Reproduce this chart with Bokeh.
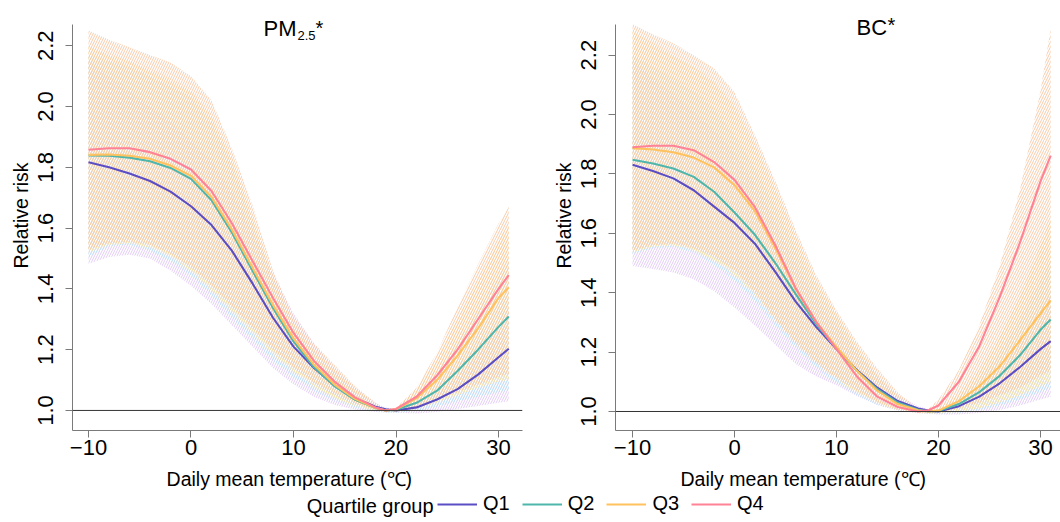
from bokeh.plotting import figure
from bokeh.layouts import column, row
from bokeh.models import (Range1d, FixedTicker, PrintfTickFormatter, Span, Label,
                          Legend, LegendItem, CustomJSTickFormatter)
from bokeh.embed import file_html
from bokeh.resources import INLINE

# ---------------- data ----------------
groups = ["Q1", "Q2", "Q3", "Q4"]
temps = [-10, -8, -6, -4, -2, 0, 2, 4, 6, 8, 10, 12, 14, 16, 18, 19, 20, 22, 24, 26, 28, 30, 31]
x_ticks = [-10, 0, 10, 20, 30]
y_ticks = [1.0, 1.2, 1.4, 1.6, 1.8, 2.0, 2.2]

# PM2.5 panel: relative risk curves
pm_q1 = [1.817, 1.800, 1.780, 1.755, 1.720, 1.672, 1.610, 1.525, 1.418, 1.305, 1.210, 1.140, 1.082, 1.040, 1.012, 1.004, 1.000, 1.010, 1.036, 1.070, 1.118, 1.175, 1.203]
pm_q2 = [1.839, 1.838, 1.832, 1.820, 1.798, 1.762, 1.692, 1.585, 1.460, 1.337, 1.227, 1.142, 1.080, 1.035, 1.008, 1.000, 1.002, 1.025, 1.065, 1.130, 1.200, 1.275, 1.309]
pm_q3 = [1.841, 1.842, 1.838, 1.828, 1.806, 1.772, 1.702, 1.595, 1.470, 1.347, 1.237, 1.150, 1.085, 1.038, 1.008, 1.000, 1.004, 1.040, 1.100, 1.180, 1.270, 1.370, 1.405]
pm_q4 = [1.858, 1.863, 1.863, 1.850, 1.828, 1.793, 1.722, 1.615, 1.492, 1.370, 1.255, 1.163, 1.095, 1.043, 1.010, 1.000, 1.005, 1.045, 1.115, 1.200, 1.300, 1.400, 1.445]
# PM2.5 panel: confidence bands
pm_q1_lo = [1.483, 1.505, 1.512, 1.500, 1.460, 1.410, 1.350, 1.280, 1.210, 1.140, 1.085, 1.045, 1.018, 1.003, 0.995, 0.993, 0.992, 0.990, 0.995, 1.005, 1.015, 1.025, 1.030]
pm_q1_hi = [2.150, 2.100, 2.050, 2.000, 1.950, 1.890, 1.820, 1.720, 1.590, 1.450, 1.320, 1.220, 1.140, 1.075, 1.025, 1.010, 1.005, 1.025, 1.060, 1.110, 1.190, 1.280, 1.330]
pm_q2_lo = [1.505, 1.540, 1.545, 1.525, 1.490, 1.445, 1.380, 1.305, 1.235, 1.165, 1.110, 1.065, 1.032, 1.010, 0.997, 0.993, 0.992, 0.998, 1.012, 1.030, 1.045, 1.060, 1.065]
pm_q2_hi = [2.170, 2.150, 2.130, 2.100, 2.070, 2.030, 1.950, 1.810, 1.620, 1.430, 1.280, 1.190, 1.125, 1.065, 1.020, 1.004, 1.006, 1.050, 1.120, 1.220, 1.330, 1.440, 1.490]
pm_q3_lo = [1.520, 1.545, 1.550, 1.535, 1.505, 1.460, 1.395, 1.325, 1.255, 1.185, 1.128, 1.080, 1.042, 1.015, 1.000, 0.995, 0.995, 1.005, 1.025, 1.050, 1.075, 1.095, 1.100]
pm_q3_hi = [2.200, 2.170, 2.150, 2.120, 2.090, 2.050, 1.970, 1.830, 1.640, 1.440, 1.290, 1.200, 1.135, 1.072, 1.022, 1.004, 1.007, 1.070, 1.170, 1.300, 1.430, 1.560, 1.610]
pm_q4_lo = [1.530, 1.550, 1.555, 1.545, 1.515, 1.470, 1.410, 1.340, 1.270, 1.200, 1.140, 1.090, 1.050, 1.020, 1.003, 0.997, 0.997, 1.010, 1.035, 1.060, 1.085, 1.110, 1.120]
pm_q4_hi = [2.250, 2.220, 2.195, 2.170, 2.145, 2.100, 2.020, 1.860, 1.675, 1.460, 1.310, 1.220, 1.150, 1.080, 1.025, 1.005, 1.008, 1.075, 1.190, 1.340, 1.480, 1.615, 1.670]

# BC panel: relative risk curves
bc_q1 = [1.831, 1.810, 1.785, 1.745, 1.690, 1.635, 1.565, 1.470, 1.370, 1.285, 1.210, 1.140, 1.080, 1.035, 1.010, 1.003, 1.000, 1.018, 1.050, 1.095, 1.150, 1.210, 1.237]
bc_q2 = [1.848, 1.835, 1.818, 1.790, 1.740, 1.670, 1.595, 1.500, 1.395, 1.295, 1.212, 1.137, 1.075, 1.030, 1.006, 1.000, 1.002, 1.025, 1.065, 1.120, 1.190, 1.275, 1.310]
bc_q3 = [1.887, 1.882, 1.873, 1.855, 1.822, 1.762, 1.675, 1.550, 1.412, 1.302, 1.217, 1.137, 1.070, 1.025, 1.004, 1.000, 1.003, 1.035, 1.085, 1.152, 1.240, 1.330, 1.374]
bc_q4 = [1.890, 1.895, 1.895, 1.880, 1.840, 1.780, 1.688, 1.560, 1.415, 1.302, 1.210, 1.118, 1.050, 1.015, 1.000, 1.004, 1.020, 1.100, 1.220, 1.385, 1.570, 1.775, 1.862]
# BC panel: confidence bands
bc_q1_lo = [1.490, 1.480, 1.468, 1.445, 1.405, 1.350, 1.290, 1.225, 1.160, 1.118, 1.088, 1.052, 1.022, 1.003, 0.994, 0.992, 0.990, 0.990, 0.995, 1.005, 1.020, 1.040, 1.050]
bc_q1_hi = [2.180, 2.120, 2.070, 2.010, 1.950, 1.870, 1.770, 1.640, 1.500, 1.380, 1.290, 1.200, 1.120, 1.055, 1.018, 1.008, 1.004, 1.030, 1.080, 1.150, 1.240, 1.340, 1.400]
bc_q2_lo = [1.530, 1.550, 1.555, 1.535, 1.495, 1.440, 1.370, 1.290, 1.215, 1.148, 1.095, 1.055, 1.022, 1.004, 0.995, 0.993, 0.992, 0.995, 1.005, 1.020, 1.040, 1.065, 1.080]
bc_q2_hi = [2.200, 2.160, 2.120, 2.080, 2.020, 1.930, 1.820, 1.690, 1.550, 1.420, 1.320, 1.210, 1.120, 1.050, 1.012, 1.004, 1.006, 1.045, 1.110, 1.200, 1.310, 1.440, 1.510]
bc_q3_lo = [1.535, 1.555, 1.560, 1.545, 1.510, 1.460, 1.395, 1.310, 1.235, 1.168, 1.110, 1.062, 1.026, 1.005, 0.995, 0.993, 0.993, 0.998, 1.010, 1.030, 1.055, 1.085, 1.100]
bc_q3_hi = [2.280, 2.240, 2.200, 2.160, 2.110, 2.030, 1.900, 1.750, 1.590, 1.440, 1.330, 1.220, 1.120, 1.050, 1.010, 1.004, 1.008, 1.060, 1.140, 1.250, 1.390, 1.560, 1.650]
bc_q4_lo = [1.542, 1.560, 1.565, 1.550, 1.520, 1.475, 1.400, 1.310, 1.228, 1.162, 1.112, 1.070, 1.032, 1.006, 0.995, 0.995, 0.998, 1.010, 1.030, 1.055, 1.080, 1.120, 1.138]
bc_q4_hi = [2.305, 2.270, 2.240, 2.200, 2.155, 2.075, 1.930, 1.775, 1.610, 1.460, 1.340, 1.235, 1.145, 1.065, 1.008, 1.008, 1.040, 1.140, 1.290, 1.490, 1.750, 2.080, 2.290]

line_colors = ["#5B4EC4", "#4FB6AC", "#FFC25E", "#FF8296"]
band_colors = ["#E3CBF5", "#BDE6F6", "#FFE2A0", "#F8CBAA"]

FONT = "Liberation Sans"
AXIS_GRAY = "#7A7A7A"
NB = "\u00a0"


def make_panel(curves, bands, x_rng, y_rng, y_top, width, border_left, border_right, xlabel):
    p = figure(output_backend="svg", toolbar_location=None, title=None,
               frame_width=width, frame_height=430,
               min_border_left=border_left, min_border_right=border_right,
               min_border_top=0, min_border_bottom=62,
               x_range=Range1d(*x_rng), y_range=Range1d(y_rng[0], y_top))
    p.outline_line_color = None
    p.grid.visible = False

    for (lo, hi), c in zip(bands, band_colors):
        p.varea(x=temps, y1=lo, y2=hi, fill_alpha=0, hatch_pattern="/",
                hatch_color=c, hatch_alpha=1.0, hatch_scale=5, hatch_weight=1.0)

    p.add_layout(Span(location=1.0, dimension="width", line_color="#333333", line_width=1))

    for vals, c in zip(curves, line_colors):
        p.line(temps, vals, line_color=c, line_width=2.1, line_join="round")

    for ax in (p.xaxis[0], p.yaxis[0]):
        ax.axis_line_color = AXIS_GRAY
        ax.major_tick_line_color = AXIS_GRAY
        ax.minor_tick_line_color = None
        ax.major_tick_in = 0
        ax.major_tick_out = 7
        ax.major_label_text_font = FONT
        ax.major_label_text_font_size = "22px"
        ax.major_label_text_color = "black"
        ax.axis_label_text_font = FONT
        ax.axis_label_text_font_size = "19.5px"
        ax.axis_label_text_font_style = "normal"
        ax.axis_label_text_color = "black"

    p.xaxis.ticker = FixedTicker(ticks=x_ticks)
    p.xaxis.formatter = CustomJSTickFormatter(
        code="return tick < 0 ? '\u2212' + Math.abs(tick) : String(tick);")
    p.xaxis.major_label_standoff = 2
    p.xaxis.axis_label = xlabel
    p.xaxis.axis_label_standoff = 10

    p.yaxis.ticker = FixedTicker(ticks=y_ticks)
    p.yaxis.formatter = PrintfTickFormatter(format="%.1f")
    p.yaxis.major_label_orientation = "vertical"
    p.yaxis.major_label_standoff = 12
    p.yaxis.axis_label = "Relative risk"
    p.yaxis.axis_label_standoff = 4
    p.yaxis.bounds = y_rng
    return p


xlab = "Daily mean temperature (\u2103)"
p1 = make_panel([pm_q1, pm_q2, pm_q3, pm_q4],
                [(pm_q1_lo, pm_q1_hi), (pm_q2_lo, pm_q2_hi), (pm_q3_lo, pm_q3_hi), (pm_q4_lo, pm_q4_hi)],
                (-11.56, 32.34), (0.934, 2.27), 2.349, 450, 72, 27, xlab + NB * 3)
p2 = make_panel([bc_q1, bc_q2, bc_q3, bc_q4],
                [(bc_q1_lo, bc_q1_hi), (bc_q2_lo, bc_q2_hi), (bc_q3_lo, bc_q3_hi), (bc_q4_lo, bc_q4_hi)],
                (-11.67, 32.06), (0.936, 2.303), 2.384, 446, 64, 0, xlab + NB * 13)


# titles (PM2.5* with subscript, BC*)
def title_part(p, x, y, txt, size):
    p.add_layout(Label(x=x, y=y, x_units="screen", y_units="screen", text=txt,
                       text_font=FONT, text_font_size=size, text_baseline="alphabetic",
                       text_color="black"))


title_part(p1, 191, 402, "PM", "22px")
title_part(p1, 225, 395, "2.5", "13px")
title_part(p1, 243, 403, "*", "20px")
title_part(p2, 241, 403, "BC", "22px")
title_part(p2, 272, 405.5, "*", "20px")

# legend strip
p3 = figure(output_backend="svg", toolbar_location=None, width=1059, height=26,
            x_axis_type=None, y_axis_type=None, min_border=0,
            x_range=Range1d(0, 1), y_range=Range1d(0, 1))
p3.outline_line_color = None
p3.grid.visible = False
items = []
for g, c in zip(groups, line_colors):
    r = p3.line(x=[float("nan")], y=[float("nan")], line_color=c, line_width=2.2)
    items.append(LegendItem(label=g, renderers=[r]))
leg = Legend(items=items, orientation="horizontal", location=(437, 3),
             glyph_width=40, glyph_height=20, label_height=20, label_standoff=6,
             label_width=25, spacing=12, padding=0, margin=0,
             border_line_color=None, background_fill_alpha=0,
             label_text_font=FONT, label_text_font_size="20px", label_text_color="black")
p3.add_layout(leg)
p3.add_layout(Label(x=433, y=13, x_units="screen", y_units="screen", text="Quartile group",
                    text_font=FONT, text_font_size="20px", text_align="right",
                    text_baseline="middle", text_color="black"))

layout = column(row(p1, p2), p3)
open("out.html", "w").write(file_html(layout, INLINE))
